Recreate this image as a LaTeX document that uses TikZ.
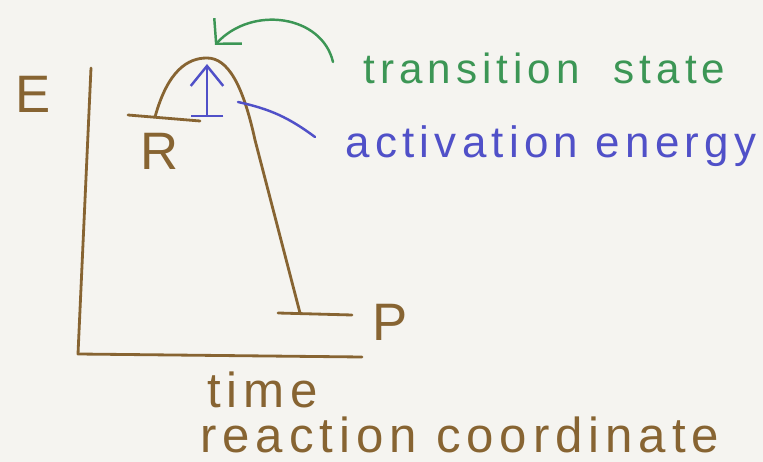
\documentclass[tikz,border=0pt]{standalone}
\usepackage{fontspec}
\setmainfont{Liberation Sans}
\newfontfamily\handfont[LetterSpace=12]{Liberation Sans}
\usetikzlibrary{arrows.meta}
\usepackage{xcolor}
\definecolor{inkbrown}{RGB}{135,100,50}
\definecolor{inkgreen}{RGB}{60,150,85}
\definecolor{inkblue}{RGB}{80,80,200}
\definecolor{paper}{RGB}{245,244,240}

\begin{document}
\begin{tikzpicture}[x=0.02cm,y=-0.02cm,
    pen/.style={draw=inkbrown,line width=1.6pt,line cap=round,line join=round},
    letter/.style={inner sep=0,anchor=base west,text=inkbrown,font=\handfont\fontsize{30}{34}\selectfont},
    axlbl/.style={inner sep=0,anchor=base west,text=inkbrown,font=\handfont\fontsize{28}{30}\selectfont},
    notelbl/.style={inner sep=0,anchor=base west,font=\handfont\fontsize{25}{30}\selectfont},
]
\fill[paper] (0,0) rectangle (763,462);
\useasboundingbox (0,0) rectangle (763,462);
% labels
\node[letter] (E)    at (15,113)  {E};
\node[letter] (R)    at (140,170) {R};
\node[letter] (P)    at (372,340) {P};
\node[notelbl,text=inkgreen,font=\handfont\fontsize{24}{28}\selectfont] (ts) at (363,84) {transition\hspace{0.8em}state};
\node[notelbl,text=inkblue]  (ae) at (345,158) {activation energy};
\node[axlbl] (time) at (207,407) {time};
\node[axlbl] (rc)   at (200,452) {reaction coordinate};
% axes
\coordinate (ytop)   at (91,68);
\coordinate (origin) at (78,354);
\coordinate (xend)   at (362,357);
\draw[pen] (ytop) -- (origin) -- (xend);
% energy curve
\coordinate (rleft)  at (128,115);
\coordinate (rright) at (200,121);
\coordinate (footR)  at (155,117);
\coordinate (peak)   at (207,58);
\coordinate (footP)  at (300,313);
\coordinate (pleft)  at (278,313);
\coordinate (pright) at (352,315);
\draw[pen] (rleft) -- (rright);
\draw[pen] (footR) .. controls (168,70) and (188,58) .. (peak)
  .. controls (228,58) and (243,85) .. (255,140) -- (footP);
\draw[pen] (pleft) -- (pright);
% activation energy
\coordinate (ebot) at (207,117);
\coordinate (etop) at (207,64);
\draw[inkblue,line width=1.4pt,{Bar[width=6.5mm,line width=1.4pt]}-{Straight Barb[length=4mm,width=6.5mm]}] (ebot) -- (etop);
\coordinate (eline) at (238,102);
\coordinate (aeptr) at (315,137);
\draw[inkblue,line width=1.4pt,line cap=round] (eline) to[bend left=12] (aeptr);
% transition state
\coordinate (tsptr) at (333,62);
\coordinate (tstip) at (215,45);
\draw[inkgreen,line width=1.4pt,line cap=round,-{Straight Barb[length=3.5mm,width=7.5mm]}]
  (tsptr) .. controls (322,15) and (252,5) .. (tstip);
\end{tikzpicture}
\end{document}
